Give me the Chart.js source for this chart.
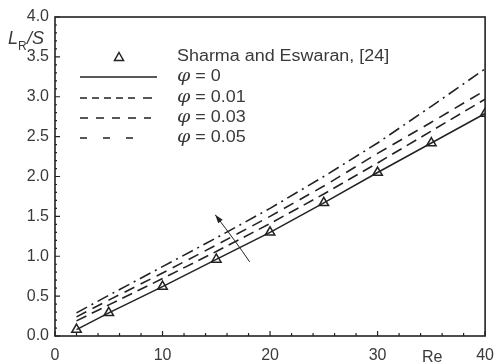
<!DOCTYPE html>
<html><head><meta charset="utf-8">
<script src="https://cdn.jsdelivr.net/npm/chart.js@4"></script>
<style>html,body{margin:0;padding:0;background:#fff;overflow:hidden}</style>
</head><body>
<div style="width:504px;height:363px"><canvas id="c" width="504" height="363"></canvas></div>
<script>
const reynolds = [2, 5, 10, 15, 20, 25, 30, 35, 40];
const sharmaEswaran = [0.08, 0.29, 0.62, 0.96, 1.30, 1.67, 2.05, 2.42, 2.79];
const phi0 = [0.08, 0.29, 0.62, 0.96, 1.30, 1.67, 2.05, 2.42, 2.79];
const phi001 = [0.19, 0.39, 0.72, 1.06, 1.41, 1.78, 2.17, 2.57, 2.97];
const phi003 = [0.24, 0.45, 0.79, 1.14, 1.50, 1.88, 2.29, 2.68, 3.08];
const phi005 = [0.29, 0.51, 0.87, 1.23, 1.60, 2.00, 2.42, 2.88, 3.35];
const xTicks = [0, 10, 20, 30, 40];
const yTicks = [0, 0.5, 1.0, 1.5, 2.0, 2.5, 3.0, 3.5, 4.0];
const legendLabels = ['Sharma and Eswaran, [24]', 'φ = 0', 'φ = 0.01', 'φ = 0.03', 'φ = 0.05'];
const xTitle = 'Re';

const INK = '#222';
const TXT = '#3a3a3a';
const FONT = 'Liberation Sans, Arial, sans-serif';

const pts = arr => reynolds.map((r, i) => ({x: r, y: arr[i]}));

const frame = {
  id: 'frame',
  afterDraw(chart) {
    const {ctx, chartArea: a, scales: {x, y}} = chart;
    ctx.save();
    ctx.strokeStyle = INK;
    ctx.lineWidth = 1.6;
    ctx.strokeRect(a.left, a.top, a.right - a.left, a.bottom - a.top);
    ctx.lineWidth = 1.2;
    ctx.beginPath();
    for (let v = 0; v <= 40; v += 2) {
      const px = x.getPixelForValue(v);
      const len = v % 10 === 0 ? 5 : 3;
      ctx.moveTo(px, a.bottom); ctx.lineTo(px, a.bottom - len);
    }
    for (let k = 0; k <= 40; k++) {
      const py = y.getPixelForValue(k / 10);
      const len = k % 5 === 0 ? 5 : 2;
      ctx.moveTo(a.left, py); ctx.lineTo(a.left + len, py);
    }
    ctx.stroke();

    // arrow (direction of increasing phi)
    const sx = x.getPixelForValue(18.1), sy = y.getPixelForValue(0.93);
    const ex = x.getPixelForValue(14.9), ey = y.getPixelForValue(1.52);
    const cx = x.getPixelForValue(16.9), cy = y.getPixelForValue(1.17);
    ctx.lineWidth = 1;
    ctx.beginPath();
    ctx.moveTo(sx, sy);
    ctx.quadraticCurveTo(cx, cy, ex, ey);
    ctx.stroke();
    const ang = Math.atan2(ey - cy, ex - cx);
    ctx.fillStyle = INK;
    ctx.beginPath();
    ctx.moveTo(ex, ey);
    ctx.lineTo(ex - 9 * Math.cos(ang - 0.32), ey - 9 * Math.sin(ang - 0.32));
    ctx.lineTo(ex - 9 * Math.cos(ang + 0.32), ey - 9 * Math.sin(ang + 0.32));
    ctx.closePath();
    ctx.fill();

    // legend
    ctx.fillStyle = TXT;
    ctx.textBaseline = 'middle';
    ctx.textAlign = 'left';
    const textX = 177;
    const rows = [57, 77, 98, 118, 138];
    const drawText = (t, tx, ty) => {
      ctx.save();
      ctx.translate(tx, ty);
      ctx.scale(1.12, 1);
      ctx.font = '16px ' + FONT;
      if (t.startsWith('φ')) {
        ctx.font = 'italic 17px "DejaVu Serif", serif';
        ctx.fillText('φ', 0, 0);
        const w = ctx.measureText('φ').width;
        ctx.font = '16px ' + FONT;
        ctx.fillText(t.slice(1), w, 0);
      } else {
        ctx.fillText(t, 0, 0);
      }
      ctx.restore();
    };
    ctx.strokeStyle = INK;
    ctx.lineWidth = 1.5;
    ctx.beginPath();
    ctx.moveTo(119, rows[0] - 4.5); ctx.lineTo(123.5, rows[0] + 3.5); ctx.lineTo(114.5, rows[0] + 3.5); ctx.closePath();
    ctx.stroke();
    drawText(legendLabels[0], textX, rows[0]);
    const legDash = [[], [7, 5, 7, 5, 7, 5, 7, 5, 7, 8, 2, 0], [8, 8], [7, 16]];
    const legEnd = [157, 157, 151, 142];
    for (let i = 0; i < 4; i++) {
      ctx.setLineDash(legDash[i]);
      ctx.lineWidth = 1.5;
      ctx.beginPath();
      ctx.moveTo(80, rows[i + 1]); ctx.lineTo(legEnd[i], rows[i + 1]);
      ctx.stroke();
      ctx.setLineDash([]);
      drawText(legendLabels[i + 1], textX, rows[i + 1]);
    }

    // axis titles
    ctx.fillStyle = TXT;
    ctx.textBaseline = 'alphabetic';
    ctx.font = 'italic 18px ' + FONT;
    ctx.fillText('L', 8, 44);
    ctx.font = '12px ' + FONT;
    ctx.fillText('R', 18, 50);
    ctx.font = 'italic 18px ' + FONT;
    ctx.fillText('/S', 27, 44);
    ctx.font = '16px ' + FONT;
    ctx.fillText(xTitle, 422, 362);
    ctx.restore();
  }
};

new Chart(document.getElementById('c'), {
  type: 'line',
  data: {
    datasets: [
      {label: legendLabels[0], data: pts(sharmaEswaran), showLine: false, pointStyle: 'triangle',
       pointRadius: 5.5, pointBorderColor: INK, pointBackgroundColor: 'rgba(255,255,255,0)', pointBorderWidth: 1.5},
      {label: legendLabels[1], data: pts(phi0), borderColor: INK, borderWidth: 1.5, pointRadius: 0, tension: 0},
      {label: legendLabels[2], data: pts(phi001), borderColor: INK, borderWidth: 1.6, pointRadius: 0, borderDash: [11, 6], tension: 0},
      {label: legendLabels[3], data: pts(phi003), borderColor: INK, borderWidth: 1.6, pointRadius: 0, borderDash: [11, 7], tension: 0},
      {label: legendLabels[4], data: pts(phi005), borderColor: INK, borderWidth: 1.6, pointRadius: 0, borderDash: [12, 5, 2, 5], tension: 0}
    ]
  },
  options: {
    responsive: false,
    animation: false,
    events: [],
    layout: {padding: {top: 17, right: 13, left: 0, bottom: 0}},
    plugins: {legend: {display: false}, tooltip: {enabled: false}},
    scales: {
      x: {
        type: 'linear', min: 0, max: 40,
        afterBuildTicks: s => { s.ticks = xTicks.map(v => ({value: v})); },
        afterFit: s => { s.height = 27; },
        grid: {display: false, drawTicks: false},
        border: {display: false},
        ticks: {color: TXT, font: {family: FONT, size: 16}, padding: 10, maxRotation: 0}
      },
      y: {
        min: 0, max: 4,
        afterBuildTicks: s => { s.ticks = yTicks.map(v => ({value: v})); },
        afterFit: s => { s.width = 55; },
        grid: {display: false, drawTicks: false},
        border: {display: false},
        ticks: {color: TXT, font: {family: FONT, size: 16}, padding: 6, callback: v => v.toFixed(1)}
      }
    }
  },
  plugins: [frame]
});
</script>
</body></html>
